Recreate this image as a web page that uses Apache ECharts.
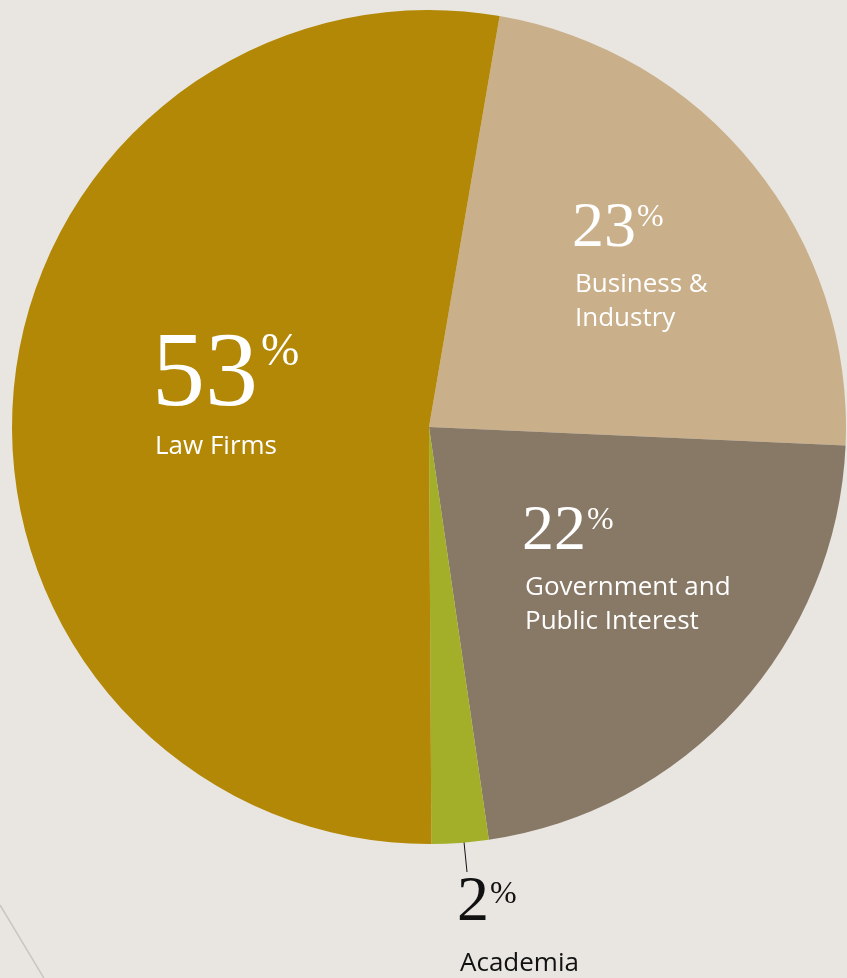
<!DOCTYPE html>
<html>
<head>
<meta charset="utf-8">
<script src="https://cdn.jsdelivr.net/npm/echarts@6/dist/echarts.min.js"></script>
<style>
html,body{margin:0;padding:0;background:#E9E6E2;}
#chart{width:847px;height:978px;}
</style>
</head>
<body>
<div id="chart"></div>
<script>
// Data
const categories = ['Business & Industry', 'Government and Public Interest', 'Academia', 'Law Firms'];
const labelLines1 = ['Business &', 'Government and', 'Academia', 'Law Firms'];
const labelLines2 = ['Industry', 'Public Interest', '', ''];
const shares = [23, 22, 2.2, 52.8];

const palette = ['#C9B08A', '#887866', '#A3AE29', '#B38806'];
// label anchor (top-left) per slice
const labelAnchors = [[572, 188], [522, 491], [457, 855], [152, 326]];
const numLineHeights = [80, 80, 92, 104];
const numPadBottom = [7, 7, 12, 0];
const pctPadTop = [14, 14, 24, 4];

const chart = echarts.init(document.getElementById('chart'), null, {renderer: 'canvas'});

const serif = '"Liberation Serif", "DejaVu Serif", serif';
const sans = '"Open Sans", "Lato", sans-serif';

function richFor(i, color) {
  const big = i === 3;
  const numSize = big ? 106 : 64;
  const pctSize = big ? 46 : 32;
  const lh = numLineHeights[i];
  return {
    num: {fontFamily: serif, fontSize: numSize, color: color, lineHeight: lh, verticalAlign: 'bottom', padding: [0, 0, numPadBottom[i], 0]},
    pct: {fontFamily: serif, fontSize: pctSize, color: color, lineHeight: lh, verticalAlign: 'top', padding: [pctPadTop[i], 0, 0, big ? 3 : 1]},
    name: {fontFamily: sans, fontSize: 26, color: color, lineHeight: 34, padding: [0, 0, 0, 3]}
  };
}

const data = categories.map((c, i) => {
  const isAcad = i === 2;
  const color = isAcad ? '#111111' : '#FFFFFF';
  const pct = Math.round(shares[i]);
  let fmt = '{num|' + pct + '}{pct|%}\n{name|' + labelLines1[i] + '}';
  if (labelLines2[i]) fmt += '\n{name|' + labelLines2[i] + '}';
  return {
    name: c,
    value: shares[i],
    itemStyle: {color: palette[i]},
    label: {
      show: true,
      position: isAcad ? 'outside' : 'inside',
      formatter: fmt,
      align: 'left',
      verticalAlign: 'top',
      rich: richFor(i, color)
    },
    labelLine: isAcad ? {show: true, lineStyle: {color: '#111111', width: 1}} : {show: false}
  };
});

chart.setOption({
  backgroundColor: '#E9E6E2',
  animation: false,
  graphic: [{
    type: 'line',
    shape: {x1: 0, y1: 905, x2: 45, y2: 980},
    style: {stroke: '#C9C5C0', lineWidth: 1.5},
    silent: true
  }],
  series: [{
    type: 'pie',
    center: [429, 427],
    radius: 417,
    startAngle: 80.25,
    clockwise: true,
    avoidLabelOverlap: false,
    emphasis: {disabled: true},
    itemStyle: {borderWidth: 0},
    data: data,
    labelLayout: function (params) {
      const a = labelAnchors[params.dataIndex];
      const out = {x: a[0], y: a[1], align: 'left', verticalAlign: 'top', hideOverlap: false};
      if (params.dataIndex === 2) {
        out.labelLinePoints = [[463, 832], [465, 852], [467, 872]];
      }
      return out;
    }
  }]
});
</script>
</body>
</html>
